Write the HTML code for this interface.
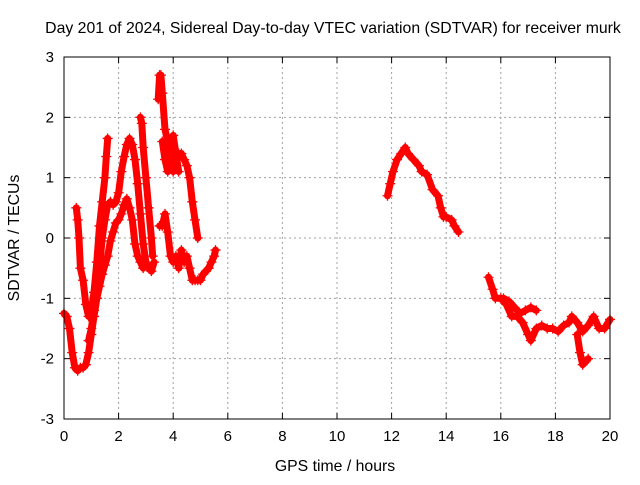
<!DOCTYPE html>
<html><head><meta charset="utf-8"><style>
body{margin:0;background:#fff}
svg text{font-family:"Liberation Sans",sans-serif;font-size:15px;fill:#000}
svg text.big{font-size:15.8px}
</style></head><body>
<svg id="chart" width="640" height="480" xmlns="http://www.w3.org/2000/svg">
<text class="big" x="333" y="33" text-anchor="middle">Day 201 of 2024, Sidereal Day-to-day VTEC variation (SDTVAR) for receiver murk</text>
<text class="big" x="335" y="471" text-anchor="middle">GPS time / hours</text>
<text class="big" x="0" y="0" text-anchor="middle" transform="translate(19,238) rotate(-90)">SDTVAR / TECUs</text>
<g id="grid"></g>
<g id="marks"></g>
<rect x="64" y="57" width="546" height="362" fill="none" stroke="#000" stroke-width="1"/>
<g id="ticks"></g>
</svg>
<script>
const xTicks=[0,2,4,6,8,10,12,14,16,18,20];
const yTicks=[-3,-2,-1,0,1,2,3];
const trackA_t=[0,0.1,0.2,0.3,0.4,0.5,0.6,0.7,0.8,0.9,1.0,1.1,1.2,1.3,1.4,1.5,1.6,1.7,1.8,1.9,2.0,2.1,2.2,2.3,2.4,2.5,2.6,2.7,2.8,2.9,3.0,3.1,3.2,3.3];
const trackA_v=[-1.25,-1.3,-1.5,-1.9,-2.15,-2.2,-2.15,-2.15,-2.1,-1.9,-1.6,-1.3,-1.0,-0.5,0.0,0.3,0.55,0.6,0.55,0.6,0.75,1.1,1.35,1.55,1.65,1.55,1.3,0.9,0.4,-0.1,-0.4,-0.5,-0.55,-0.4];
const trackB_t=[0.45,0.5,0.55,0.6,0.7,0.8,0.9,1.0,1.1,1.2,1.3,1.4,1.5,1.55,1.6];
const trackB_v=[0.5,0.3,0.0,-0.5,-0.7,-1.1,-1.3,-1.2,-0.9,-0.4,0.2,0.6,1.0,1.35,1.65];
const trackC_t=[0.9,1.0,1.1,1.2,1.3,1.4,1.5,1.6,1.7,1.8,1.9,2.0,2.1,2.2,2.3,2.4,2.5,2.6,2.7,2.8,2.9];
const trackC_v=[-1.7,-1.5,-1.2,-1.0,-0.8,-0.6,-0.45,-0.3,-0.05,0.1,0.25,0.3,0.4,0.55,0.65,0.5,0.3,-0.1,-0.3,-0.4,-0.5];
const trackD_t=[2.8,2.85,2.9,3.0,3.1,3.2,3.25];
const trackD_v=[2.0,1.9,1.5,1.0,0.5,0.0,-0.3];
const trackE_t=[3.45,3.5,3.55,3.6,3.7,3.8,3.9,4.0,4.1,4.2,4.3,4.4,4.5,4.6,4.7,4.8,4.9];
const trackE_v=[2.3,2.7,2.7,2.4,1.8,1.6,1.3,1.1,1.2,1.4,1.4,1.3,1.2,1.0,0.6,0.3,0.0];
const trackF_t=[3.5,3.6,3.7,3.8,3.9,4.0,4.1,4.2,4.3,4.4,4.5,4.6,4.7,4.8,4.9,5.0,5.1,5.2,5.3,5.4,5.5,5.55];
const trackF_v=[0.2,0.2,0.4,0.1,-0.3,-0.4,-0.3,-0.5,-0.2,-0.4,-0.3,-0.5,-0.7,-0.7,-0.7,-0.7,-0.6,-0.55,-0.5,-0.4,-0.3,-0.2];
const trackG_t=[3.6,3.7,3.8,3.9,4.0,4.1,4.2];
const trackG_v=[1.6,1.3,1.1,1.5,1.7,1.4,1.1];
const trackH_t=[11.85,11.95,12.05,12.2,12.35,12.5,12.6,12.8,13.0,13.1,13.3,13.5,13.7,13.8,13.9,14.0,14.2,14.3,14.45];
const trackH_v=[0.7,0.9,1.1,1.3,1.4,1.5,1.4,1.3,1.2,1.1,1.05,0.8,0.7,0.5,0.35,0.35,0.3,0.2,0.1];
const trackI_t=[15.55,15.7,15.8,16.0,16.2,16.4,16.6,16.8,17.0,17.1,17.3,17.5,17.7,17.9,18.1,18.3,18.5,18.6,18.8,19.0,19.2,19.4,19.6,19.8,20.0];
const trackI_v=[-0.65,-0.85,-1.0,-1.0,-1.1,-1.3,-1.3,-1.4,-1.6,-1.7,-1.5,-1.45,-1.5,-1.5,-1.55,-1.45,-1.4,-1.3,-1.4,-1.55,-1.45,-1.3,-1.5,-1.5,-1.35];
const trackJ_t=[16.1,16.3,16.5,16.7,16.9,17.1,17.3];
const trackJ_v=[-1.0,-1.05,-1.15,-1.25,-1.2,-1.15,-1.2];
const trackK_t=[18.8,18.9,19.0,19.1,19.2];
const trackK_v=[-1.6,-1.9,-2.1,-2.05,-2.0];
const tracks=[[trackA_t,trackA_v],[trackB_t,trackB_v],[trackC_t,trackC_v],[trackD_t,trackD_v],[trackE_t,trackE_v],[trackF_t,trackF_v],[trackG_t,trackG_v],[trackH_t,trackH_v],[trackI_t,trackI_v],[trackJ_t,trackJ_v],[trackK_t,trackK_v]];

const X0=64,X1=610,Y0=419,Y1=57;
const xs=t=>X0+(t-0)/(20-0)*(X1-X0);
const ys=v=>Y0-(v+3)/6*(Y0-Y1);
const NS="http://www.w3.org/2000/svg";
const grid=document.getElementById('grid'),ticks=document.getElementById('ticks'),marks=document.getElementById('marks');
function mk(tag,attrs,parent){const e=document.createElementNS(NS,tag);for(const k in attrs)e.setAttribute(k,attrs[k]);parent.appendChild(e);return e;}
xTicks.forEach(t=>{
  const x=xs(t);
  if(t>0&&t<20){const g=mk('line',{x1:x,x2:x,y1:Y1,y2:Y0,stroke:'#a0a0a0','stroke-dasharray':'2,3'},grid);
  
  }
  mk('line',{x1:x,x2:x,y1:Y0,y2:Y0-6,stroke:'#000'},ticks);
  mk('line',{x1:x,x2:x,y1:Y1,y2:Y1+6,stroke:'#000'},ticks);
  const l=mk('text',{x:x,y:Y0+22,'text-anchor':'middle'},ticks);l.textContent=t;
  
  
});
yTicks.forEach(v=>{
  const y=ys(v);
  if(v>-3&&v<3){const g=mk('line',{x1:X0,x2:X1,y1:y,y2:y,stroke:'#a0a0a0','stroke-dasharray':'2,3'},grid);
  
  }
  mk('line',{x1:X0,x2:X0+6,y1:y,y2:y,stroke:'#000'},ticks);
  mk('line',{x1:X1,x2:X1-6,y1:y,y2:y,stroke:'#000'},ticks);
  const l=mk('text',{x:X0-10,y:y+5,'text-anchor':'end'},ticks);l.textContent=v;
  
  
});
tracks.forEach(([T,V])=>{
  const d=T.map((t,i)=>(i?'L':'M')+xs(t).toFixed(1)+','+ys(V[i]).toFixed(1)).join('');
  const p=mk('path',{d:d,fill:'none',stroke:'#f00','stroke-width':7,'stroke-linejoin':'round','stroke-linecap':'round'},marks);
  
  
  T.forEach((t,i)=>{
    const x=xs(t),y=ys(V[i]);
    const m=mk('path',{d:`M${x-5},${y}h10M${x},${y-5}v10`,stroke:'#f00','stroke-width':1.3},marks);
    
    
  });
});
</script>
</body></html>
